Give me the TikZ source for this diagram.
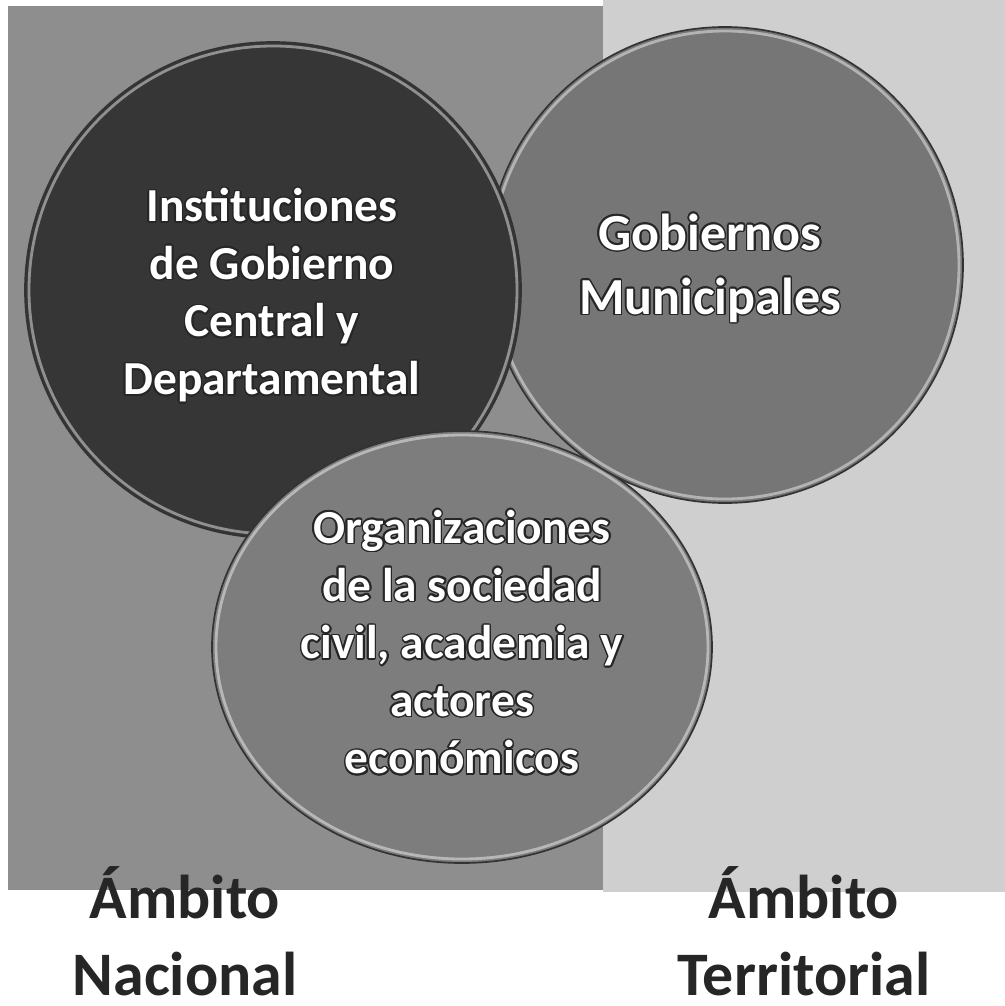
\documentclass[tikz,border=0pt]{standalone}
\usepackage{fontspec}
\setmainfont{Carlito}
\usepackage{contour}
\contourlength{1.1pt}
\newcommand{\outl}[1]{\contour{black!85}{#1}}
\definecolor{bgnacional}{HTML}{8E8E8E}
\definecolor{bgterritorial}{HTML}{CFCFCF}
\definecolor{circcentral}{HTML}{363636}
\definecolor{circmunicipal}{HTML}{767676}
\definecolor{circsociedad}{HTML}{7D7D7D}
\tikzset{
	bevel/.style={line width=1.2pt, draw=black!80},
	highlight/.style={line width=2pt, draw=white, opacity=0.45},
	circtext/.style={text=white, inner sep=0pt, align=center, font=\bfseries\fontsize{33.7}{41}\selectfont},
	ambito/.style={text=black!85, inner sep=0pt, align=center, font=\bfseries\fontsize{44}{54.8}\selectfont}
}

\begin{document}
\begin{tikzpicture}[x=0.025cm, y=-0.025cm]
			%%%%% START %%%%%
			\useasboundingbox (0, 0) rectangle (1005, 1006);
			\fill[white] (0, 0) rectangle (1005, 1006);
			
			\fill[bgterritorial] (603, 0) rectangle (1005, 892);
			\fill[bgnacional] (8, 6) rectangle (603, 890);
			
			\draw[bevel, fill=circmunicipal] (725, 265) circle (238);
			\draw[highlight] (725, 265) circle (234);
			
			\draw[bevel, fill=circcentral] (273, 290) circle (248);
			\draw[highlight] (273, 290) circle (244);
			
			\draw[bevel, fill=circsociedad] (462, 647) ellipse [x radius=250, y radius=216];
			\draw[highlight] (462, 647) ellipse [x radius=246, y radius=212];
			
			% municipales lies over sociedad civil
			\begin{scope}
				\clip (462, 647) ellipse [x radius=252, y radius=218];
				\draw[bevel, fill=circmunicipal] (725, 265) circle (238);
				\draw[highlight] (725, 265) circle (234);
			\end{scope}
			
			\node[circtext] (central) at (272, 296) {\outl{Instituciones}\\\outl{de Gobierno}\\\outl{Central y}\\\outl{Departamental}};
			\node[circtext, font=\bfseries\fontsize{37}{45.5}\selectfont] (municipal) at (710, 269) {\outl{Gobiernos}\\\outl{Municipales}};
			\node[circtext] (sociedad) at (462, 643) {\outl{Organizaciones}\\\outl{de la sociedad}\\\outl{civil, academia y}\\\outl{actores}\\\outl{económicos}};
			
			\node[ambito] (nacional) at (185, 931) {Ámbito\\Nacional};
			\node[ambito] (territorial) at (804, 931) {Ámbito\\Territorial};
			%%%%% END %%%%%
\end{tikzpicture}
\end{document}
